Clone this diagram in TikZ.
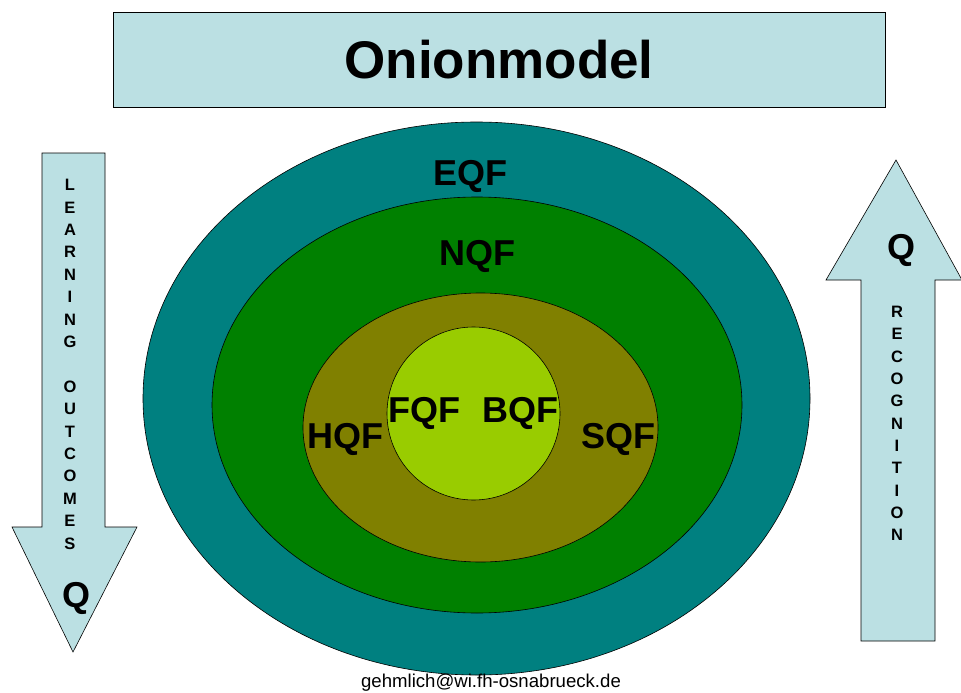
\documentclass[tikz,border=0pt]{standalone}
\usepackage{fontspec}
\setmainfont{Liberation Sans}

\definecolor{paleblue}{HTML}{BBE0E3}
\definecolor{eqfteal}{HTML}{008080}
\definecolor{nqfgreen}{HTML}{008000}
\definecolor{hqfolive}{HTML}{808000}
\definecolor{fqflime}{HTML}{99CC00}

\begin{document}
\begin{tikzpicture}[x=1pt, y=-1pt,
  layer/.style={draw=black, line width=0.6pt},
  tag/.style={font=\fontsize{36}{40}\selectfont\bfseries, inner sep=0pt},
  letter/.style={font=\fontsize{16.5}{18}\selectfont\bfseries, inner sep=0pt},
  bigq/.style={font=\fontsize{36}{40}\selectfont\bfseries, inner sep=0pt}]
 \useasboundingbox (0,0) rectangle (961,693);

 % title bar
 \node[draw=black, fill=paleblue, minimum width=772pt, minimum height=95pt,
   font=\fontsize{53}{56}\selectfont\bfseries] (title) at (499,59.5) {Onionmodel};

 % the onion, outside in
 \fill[layer, fill=eqfteal] (476.5,398.5) ellipse [x radius=333.5, y radius=276.5];
 \fill[layer, fill=nqfgreen] (477,405) ellipse [x radius=265, y radius=208];
 \fill[layer, fill=hqfolive] (480.5,427.5) ellipse [x radius=177.5, y radius=134.5];
 \fill[layer, fill=fqflime] (473.5,413.5) circle [radius=86.5];

 \node[tag] (eqf) at (470,176) {EQF};
 \node[tag] (nqf) at (477,256) {NQF};
 \node[tag] (hqf) at (345,439) {HQF};
 \node[tag] (fqf) at (424,413) {FQF};
 \node[tag] (bqf) at (520,413) {BQF};
 \node[tag] (sqf) at (618,439) {SQF};

 % left arrow, pointing down
 \filldraw[draw=black, line width=0.6pt, fill=paleblue]
   (42,153) -- (105,153) -- (105,527) -- (137,527) -- (73,652)
   -- (12,527) -- (42,527) -- cycle;
 \foreach \ch [count=\i from 0] in {L,E,A,R,N,I,N,G}
   \node[letter] (lo\i) at (70,185+22.4*\i) {\ch};
 \foreach \ch [count=\i from 9] in {O,U,T,C,O,M,E,S}
   \node[letter] (lo\i) at (70,185+22.4*\i) {\ch};
 \node[bigq] (qdown) at (77,598) {Q};

 % right arrow, pointing up
 \filldraw[draw=black, line width=0.6pt, fill=paleblue]
   (896,160) -- (962,280) -- (935,280) -- (935,641) -- (861,641)
   -- (861,280) -- (826,280) -- cycle;
 \node[bigq] (qup) at (901,250) {Q};
 \foreach \ch [count=\i from 0] in {R,E,C,O,G,N,I,T,I,O,N}
   \node[letter] (re\i) at (897,312+22.3*\i) {\ch};

 \node[font=\fontsize{18.6}{20}\selectfont, inner sep=0pt] (mail) at (491,683)
   {gehmlich@wi.fh-osnabrueck.de};
\end{tikzpicture}
\end{document}
